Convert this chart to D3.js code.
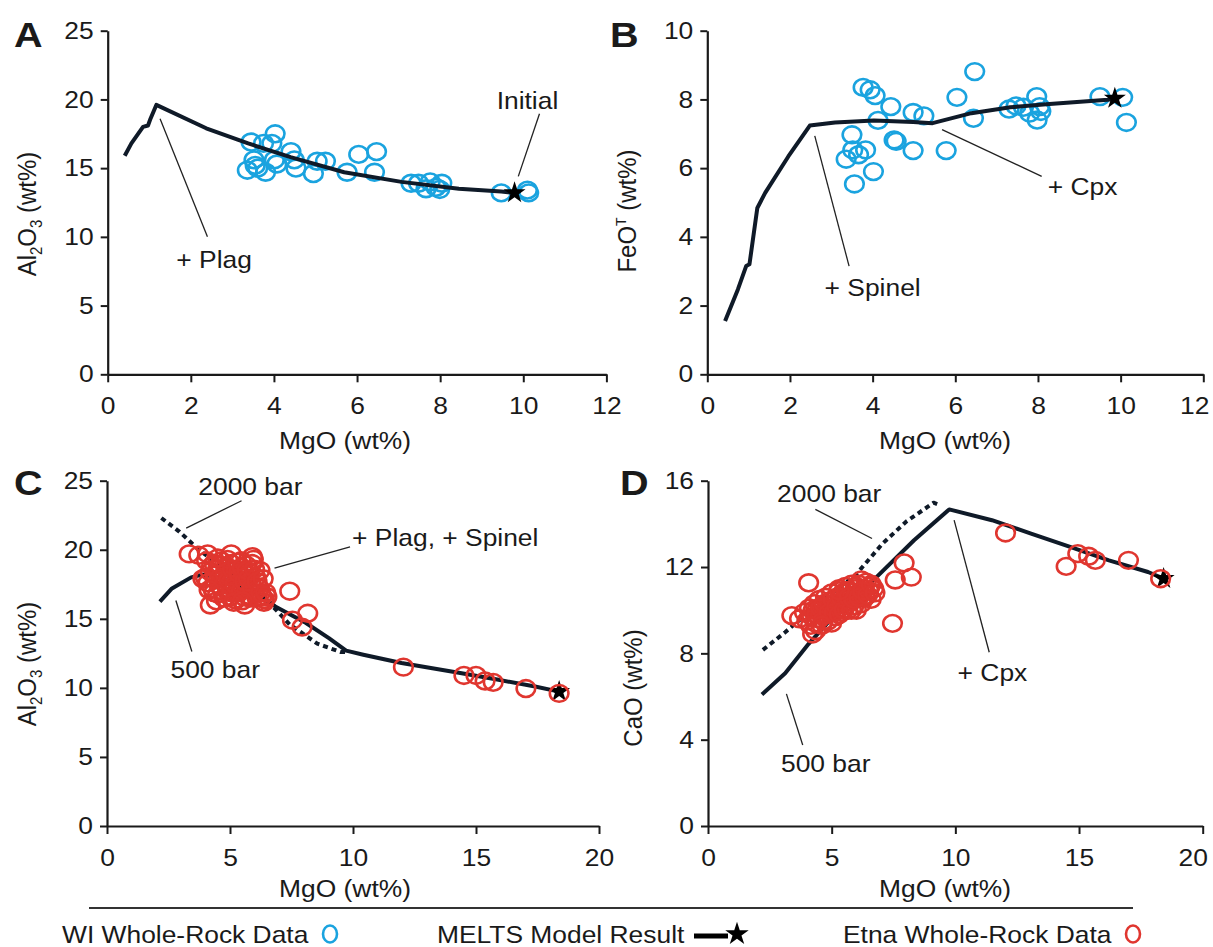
<!DOCTYPE html>
<html><head><meta charset="utf-8">
<script src="https://cdn.jsdelivr.net/npm/d3@7"></script>
<style>
html,body{margin:0;padding:0;background:#fff;}
svg{display:block;}
text{font-family:"Liberation Sans",Arial,sans-serif;fill:#1a1a1a;}
</style></head>
<body>
<svg id="chart" width="1213" height="947"></svg>
<script>
// ---------------- DATA ----------------
// Panel A: Al2O3 vs MgO (WI)
const aModelX = [0.41,0.57,0.85,0.97,1.03,1.17,2.37,3.38,4.4,5.69,7.07,8.45,9.47,9.79];
const aModelY = [15.9,16.8,18.0,18.1,18.6,19.6,17.9,16.8,15.8,14.7,14.0,13.5,13.3,13.2];
const aDataX = [3.45,3.36,3.52,3.55,3.61,3.75,3.8,3.95,4.03,4.01,4.07,4.41,4.49,4.53,4.95,5.04,5.24,5.76,6.04,6.47,6.42,7.3,7.48,7.66,7.76,7.9,8.04,7.99,9.47,10.1,10.13];
const aDataY = [16.9,14.85,15.6,15.2,15.0,16.8,14.7,16.8,17.5,15.6,15.3,16.2,15.6,15.0,14.6,15.5,15.5,14.7,16.0,16.2,14.7,13.9,13.9,13.5,14.0,13.6,13.9,13.45,13.2,13.4,13.2];
const aStar = [9.79,13.2];

// Panel B: FeOT vs MgO (WI)
const bModelX = [0.43,0.74,0.94,1.02,1.21,1.4,1.96,2.48,3.09,4.03,4.98,5.45,6.39,7.33,8.28,9.69,9.86];
const bModelY = [1.55,2.47,3.15,3.2,4.84,5.28,6.34,7.24,7.33,7.39,7.34,7.31,7.6,7.77,7.87,7.99,8.03];
const bDataX = [3.77,3.94,4.06,4.44,4.13,3.5,3.36,3.52,3.66,3.83,3.56,4.02,4.52,4.57,4.98,4.98,5.24,5.78,6.04,6.47,6.44,7.3,7.47,7.65,7.8,7.97,8.04,8.07,7.98,9.5,10.05,10.14];
const bDataY = [8.35,8.28,8.11,7.79,7.39,6.97,6.26,6.53,6.39,6.53,5.54,5.9,6.82,6.78,6.51,7.62,7.52,6.51,8.06,8.81,7.45,7.72,7.81,7.77,7.6,8.08,7.79,7.65,7.4,8.08,8.06,7.33];
const bStar = [9.86,8.03];

// Panel C: Al2O3 vs MgO (Etna)
const c500X = [2.15,2.64,3.42,3.89,4.5,5.3,6.22,6.84,8.09,9.02,9.72,10.42,11.97,14.3,15.86,17.4,18.38];
const c500Y = [16.25,17.2,18.0,18.2,18.0,17.5,16.7,15.9,14.7,13.6,12.7,12.4,11.8,11.1,10.6,10.1,9.73];
const c2000X = [2.21,2.95,3.73,4.5,5.5,6.53,7.42,8.55,9.49,9.72];
const c2000Y = [22.3,21.3,20.0,19.0,17.7,16.3,14.6,13.2,12.6,12.6];
const cDataX = [3.34,3.73,4.09,5.05,5.91,6.22,4.2,5.6,6.38,7.43,8.16,7.54,7.93,
  4.0,4.1,4.2,4.3,4.35,4.4,4.5,4.5,4.6,4.65,4.7,4.75,4.8,4.85,4.9,4.95,5.0,5.0,5.05,5.1,5.15,5.2,5.25,5.3,5.35,5.4,5.45,5.5,5.55,5.6,5.65,5.7,5.75,5.8,5.85,5.9,6.0,6.05,6.1,6.2,6.3,6.4,6.5,4.45,3.9,4.05,5.95,
  4.25,4.4,4.55,4.6,4.7,4.8,4.9,4.95,5.05,5.1,5.2,5.3,5.35,5.45,5.5,5.6,5.7,5.75,5.8,5.9,6.0,6.1,6.25,6.35,4.35,4.15,4.5,5.15,5.5,6.45,
  12.05,14.51,15.0,15.37,15.7,17.03,18.38];
const cDataY = [19.7,19.6,19.7,19.7,19.5,18.5,16.0,16.0,16.2,17.0,15.4,14.9,14.4,
  18.0,17.6,18.4,17.2,19.0,17.8,16.8,18.6,17.4,19.2,18.0,16.5,17.6,18.8,17.0,18.2,16.6,17.5,19.0,18.0,17.2,16.4,18.6,17.6,16.9,18.2,19.2,17.4,16.6,18.0,18.9,17.2,16.7,18.4,17.6,19.0,16.9,18.0,16.5,17.2,16.6,16.4,16.6,16.3,17.9,19.2,19.3,
  18.8,18.2,17.9,18.9,17.0,18.3,19.3,17.8,16.9,18.6,17.5,19.1,18.3,17.0,18.7,17.7,18.5,17.9,16.5,17.3,18.6,17.7,16.9,17.9,16.9,17.1,19.4,16.2,16.3,16.9,
  11.5,10.9,10.9,10.5,10.4,9.95,9.6];
const cStar = [18.38,9.73];

// Panel D: CaO vs MgO (Etna)
const d500X = [2.18,3.12,4.07,5.17,6.75,8.33,9.75,11.48,13.06,14.64,16.21,17.79,18.42];
const d500Y = [6.09,7.08,8.44,9.84,11.46,13.24,14.67,14.17,13.55,12.93,12.31,11.77,11.46];
const d2000X = [2.22,3.12,4.54,5.96,7.06,8.01,9.12,9.3];
const d2000Y = [8.16,8.98,10.38,11.62,13.09,14.1,14.98,14.9];
const dDataX = [4.07,3.39,7.46,7.57,7.93,8.22,4.23,4.35,3.7,
  3.9,4.0,4.1,4.2,4.3,4.35,4.4,4.5,4.5,4.6,4.7,4.75,4.8,4.85,4.9,5.0,5.0,5.1,5.15,5.2,5.25,5.3,5.35,5.4,5.45,5.5,5.55,5.6,5.65,5.7,5.75,5.8,5.85,5.9,5.95,6.0,6.1,6.15,6.2,6.3,6.35,6.4,6.5,6.55,6.6,6.7,6.2,5.0,6.0,
  4.15,4.25,4.4,4.55,4.65,4.7,4.9,5.05,5.1,5.2,5.3,5.4,5.5,5.6,5.7,5.8,5.9,6.0,6.1,6.25,6.45,6.6,6.75,4.6,5.3,
  12.03,14.48,14.95,15.39,15.66,17.0,18.3];
const dDataY = [11.27,9.75,9.39,11.4,12.19,11.53,8.9,9.05,9.6,
  9.9,9.5,10.1,9.7,10.3,9.4,10.0,10.5,9.6,10.2,9.8,10.6,10.1,9.5,10.4,10.0,10.8,10.3,9.7,10.6,10.0,11.0,10.4,9.9,10.8,10.3,11.1,10.6,10.0,10.9,10.4,11.2,10.7,10.2,11.0,10.5,11.2,10.8,10.3,11.0,10.6,11.3,10.9,11.1,10.5,11.0,11.4,9.4,10.0,
  9.3,10.0,9.8,10.1,9.5,10.3,9.9,10.5,9.9,10.2,9.8,10.6,10.0,10.9,10.6,10.0,10.5,11.1,10.6,10.9,10.7,11.2,10.8,9.3,10.9,
  13.58,12.03,12.62,12.5,12.31,12.31,11.46];
const dStar = [18.42,11.46];

// Tick values
const ticksX12 = [0,2,4,6,8,10,12];
const ticksX20 = [0,5,10,15,20];
const ticksAl = [0,5,10,15,20,25];
const ticksFe = [0,2,4,6,8,10];
const ticksCa = [0,4,8,12,16];

// ---------------- STYLE ----------------
const SX = 1.1;           // horizontal glyph stretch of the reference
const FS = 24;
const LINE = "#0f1a28";
const BLUE = "#1aa3df";
const RED = "#e0362f";
const AX = "#1a1a1a";

const svg = d3.select("#chart");

function stext(g, x, y, str, anchor, size, weight) {
  return g.append("text")
    .attr("transform", `translate(${x},${y}) scale(${SX},1)`)
    .attr("text-anchor", anchor || "middle")
    .style("font-size", (size || FS) + "px")
    .style("font-weight", weight || "normal")
    .text(str);
}

function stretchTicks(g, lastShift) {
  const texts = g.selectAll(".tick text");
  const n = texts.size();
  texts.each(function(d, i) {
    const t = d3.select(this);
    let x = +t.attr("x") || 0;
    const y = +t.attr("y") || 0;
    if (lastShift && i === n - 1) x -= lastShift;
    t.attr("x", 0).attr("y", 0)
     .attr("transform", `translate(${x},${y}) scale(${SX},1)`)
     .style("font-size", FS + "px")
     .attr("fill", "#1a1a1a");
  });
  g.select(".domain").attr("stroke", AX).attr("stroke-width", 2.2);
  g.selectAll(".tick line").attr("stroke", AX).attr("stroke-width", 2);
}

function panel(cfg) {
  const g = svg.append("g");
  const x = d3.scaleLinear().domain(cfg.xd).range(cfg.xr);
  const y = d3.scaleLinear().domain(cfg.yd).range(cfg.yr);

  // axes
  const gx = g.append("g").attr("transform", `translate(0,${cfg.yr[0]})`)
    .call(d3.axisBottom(x).tickValues(cfg.xt).tickSize(8).tickSizeOuter(0).tickPadding(15));
  const gy = g.append("g").attr("transform", `translate(${cfg.xr[0]},0)`)
    .call(d3.axisLeft(y).tickValues(cfg.yt).tickSize(7).tickSizeOuter(0).tickPadding(7));
  stretchTicks(gx, cfg.lastShift || 0); stretchTicks(gy, 0);

  // panel letter
  stext(g, cfg.letterPos[0], cfg.letterPos[1], cfg.letter, "start", 36, "bold");

  // axis titles
  stext(g, cfg.xTitlePos[0], cfg.xTitlePos[1], "MgO (wt%)", "middle");
  const yt = g.append("text")
    .attr("transform", `translate(${cfg.yTitlePos[0]},${cfg.yTitlePos[1]}) rotate(-90) scale(1,${SX})`)
    .attr("text-anchor", "middle")
    .style("font-size", FS + "px");
  cfg.yTitle(yt);

  const lineGen = d3.line().x(d => x(d[0])).y(d => y(d[1]));
  const drawLines = () => {
    cfg.lines.forEach(L => {
      g.append("path").datum(d3.zip(L.x, L.y))
        .attr("d", lineGen)
        .attr("fill", "none")
        .attr("stroke", LINE)
        .attr("stroke-width", 4)
        .attr("stroke-linejoin", "round")
        .attr("stroke-dasharray", L.dash ? "5,4" : null);
    });
  };
  const drawStar = () => {
    g.append("path")
      .attr("d", d3.symbol(d3.symbolStar, 150)())
      .attr("transform", `translate(${x(cfg.star[0])},${y(cfg.star[1])})`)
      .attr("fill", "#000");
  };
  const drawPts = () => {
    g.append("g").selectAll("ellipse").data(d3.zip(cfg.px, cfg.py)).join("ellipse")
      .attr("cx", d => x(d[0])).attr("cy", d => y(d[1]))
      .attr("rx", 9.3).attr("ry", 8.4)
      .attr("fill", "none")
      .attr("stroke", cfg.color)
      .attr("stroke-width", 2.6);
  };
  if (cfg.ptsFirst) { drawPts(); drawLines(); drawStar(); }
  else { drawLines(); drawStar(); drawPts(); }

  // annotations
  cfg.notes.forEach(n => {
    g.append("line")
      .attr("x1", x(n.l[0][0])).attr("y1", y(n.l[0][1]))
      .attr("x2", x(n.l[1][0])).attr("y2", y(n.l[1][1]))
      .attr("stroke", "#222").attr("stroke-width", 1.3);
    stext(g, x(n.t[0]), y(n.t[1]), n.s, "middle");
  });
}

const alTitle = t => {
  t.append("tspan").text("Al");
  t.append("tspan").text("2").style("font-size", "15px").attr("dy", 5);
  t.append("tspan").text("O").attr("dy", -5);
  t.append("tspan").text("3").style("font-size", "15px").attr("dy", 5);
  t.append("tspan").text(" (wt%)").attr("dy", -5);
};

panel({
  xd:[0,12], xr:[107.7,606.4], yd:[0,25], yr:[374.3,30.7], xt:ticksX12, yt:ticksAl,
  letter:"A", letterPos:[14,47], xTitlePos:[345,449], yTitlePos:[36,214], yTitle: alTitle,
  lines:[{x:aModelX,y:aModelY}], star:aStar, px:aDataX, py:aDataY, color:BLUE, ptsFirst:true,
  notes:[
    {s:"+ Plag", t:[2.56,7.73], l:[[1.26,18.6],[2.4,10.0]]},
    {s:"Initial", t:[10.1,19.3], l:[[10.39,18.96],[9.88,14.4]]}
  ]
});

panel({
  xd:[0,12], xr:[707.3,1203.3], yd:[0,10], yr:[374.3,30.7], xt:ticksX12, yt:ticksFe, lastShift:9,
  letter:"B", letterPos:[610,47], xTitlePos:[945,449], yTitlePos:[636,211],
  yTitle: t => {
    t.append("tspan").text("FeO");
    t.append("tspan").text("T").style("font-size", "14px").attr("dy", -9);
    t.append("tspan").text(" (wt%)").attr("dy", 9);
  },
  lines:[{x:bModelX,y:bModelY}], star:bStar, px:bDataX, py:bDataY, color:BLUE, ptsFirst:true,
  notes:[
    {s:"+ Spinel", t:[4.0,2.29], l:[[2.6,6.94],[3.43,3.15]]},
    {s:"+ Cpx", t:[9.08,5.23], l:[[5.68,7.12],[8.09,5.76]]}
  ]
});

panel({
  xd:[0,20], xr:[107,599], yd:[0,25], yr:[826,480.7], xt:ticksX20, yt:ticksAl,
  letter:"C", letterPos:[14,495], xTitlePos:[345,897], yTitlePos:[36,664], yTitle: alTitle,
  lines:[{x:c2000X,y:c2000Y,dash:true},{x:c500X,y:c500Y}], star:cStar, px:cDataX, py:cDataY, color:RED, ptsFirst:false,
  notes:[
    {s:"2000 bar", t:[5.83,24.0], l:[[5.47,23.55],[3.22,21.57]]},
    {s:"+ Plag, + Spinel", t:[13.75,20.24], l:[[9.88,20.2],[6.81,18.67]]},
    {s:"500 bar", t:[4.4,10.7], l:[[2.8,16.33],[3.45,12.63]]}
  ]
});

panel({
  xd:[0,20], xr:[708,1202.7], yd:[0,16], yr:[826,480.7], xt:ticksX20, yt:ticksCa, lastShift:10,
  letter:"D", letterPos:[620,495], xTitlePos:[945,897], yTitlePos:[642,688],
  yTitle: t => t.text("CaO (wt%)"),
  lines:[{x:d2000X,y:d2000Y,dash:true},{x:d500X,y:d500Y}], star:dStar, px:dDataX, py:dDataY, color:RED, ptsFirst:false,
  notes:[
    {s:"2000 bar", t:[4.9,15.02], l:[[4.34,14.67],[6.63,13.32]]},
    {s:"+ Cpx", t:[11.5,6.7], l:[[9.95,14.17],[11.37,8.05]]},
    {s:"500 bar", t:[4.76,2.52], l:[[3.17,6.12],[3.83,3.75]]}
  ]
});

// ---------------- LEGEND ----------------
const lg = svg.append("g");
lg.append("line").attr("x1", 89).attr("x2", 1133).attr("y1", 908).attr("y2", 908)
  .attr("stroke", "#333").attr("stroke-width", 2);
stext(lg, 62, 943, "WI Whole-Rock Data", "start");
lg.append("ellipse").attr("cx", 330).attr("cy", 934).attr("rx", 7).attr("ry", 8.5)
  .attr("fill", "none").attr("stroke", BLUE).attr("stroke-width", 2.6);
stext(lg, 437, 943, "MELTS Model Result", "start");
lg.append("line").attr("x1", 694).attr("x2", 728).attr("y1", 936).attr("y2", 936)
  .attr("stroke", "#000").attr("stroke-width", 5);
lg.append("path").attr("d", d3.symbol(d3.symbolStar, 170)())
  .attr("transform", "translate(737,934)").attr("fill", "#000");
stext(lg, 843, 943, "Etna Whole-Rock Data", "start");
lg.append("ellipse").attr("cx", 1133).attr("cy", 934).attr("rx", 7).attr("ry", 8.5)
  .attr("fill", "none").attr("stroke", RED).attr("stroke-width", 2.6);
</script>
</body></html>
